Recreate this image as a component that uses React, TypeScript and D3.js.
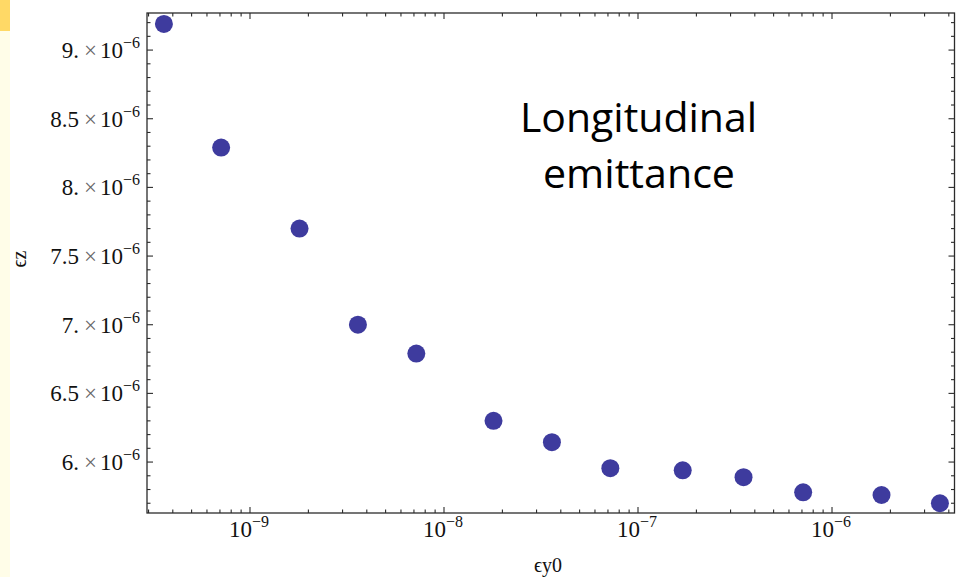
import React from "react";
import * as d3 from "d3";

const W = 956;
const H = 577;

// Initial vertical emittance (m) vs resulting longitudinal emittance
const eyValues = [3.6e-10, 7.1e-10, 1.8e-9, 3.6e-9, 7.2e-9, 1.8e-8, 3.6e-8, 7.2e-8, 1.7e-7, 3.5e-7, 7.1e-7, 1.8e-6, 3.6e-6];
const ezValues = [9.19e-6, 8.29e-6, 7.7e-6, 7.0e-6, 6.79e-6, 6.3e-6, 6.145e-6, 5.955e-6, 5.94e-6, 5.89e-6, 5.78e-6, 5.76e-6, 5.7e-6];

const yTickValues = [6e-6, 6.5e-6, 7e-6, 7.5e-6, 8e-6, 8.5e-6, 9e-6];
const yTickMantissas = ["6.", "6.5", "7.", "7.5", "8.", "8.5", "9."];
const xTickExponents = [-9, -8, -7, -6];

const titleLines = ["Longitudinal", "emittance"];

const left = 147;
const right = 954.5;
const top = 13;
const bottom = 513;

const x = d3.scaleLog().domain([Math.pow(10, -9.5309), Math.pow(10, -5.3686)]).range([left, right]);
const y = d3.scaleLinear().domain([5.629e-6, 9.27e-6]).range([bottom, top]);

const frameColor = "#2b2b2b";
const dotColor = "#3e3b9e";
const serif = "'Liberation Serif', 'DejaVu Serif', serif";

export default function App() {
  const [x0, x1] = x.domain();
  const [y0, y1] = y.domain();

  const xMajor = xTickExponents.map((e) => Math.pow(10, e));
  const xMinor: number[] = [];
  for (let d = -10; d <= -6; d++) {
    for (let k = 2; k <= 9; k++) {
      const v = k * Math.pow(10, d);
      if (v > x0 && v < x1) xMinor.push(v);
    }
  }
  const yMinor: number[] = [];
  for (let i = Math.ceil(y0 / 1e-7); i * 1e-7 <= y1; i++) {
    if (i % 5 !== 0) yMinor.push(i * 1e-7);
  }

  const major = 6;
  const minor = 3.5;

  return (
    <svg
      width={W}
      height={H}
      style={{ position: "absolute", left: 0, top: 0, background: "#ffffff" }}
    >
      {/* slide edge strip */}
      <rect x={0} y={0} width={10} height={H} fill="#fffde8" />
      <rect x={0} y={0} width={10} height={31} fill="#ffd966" />

      {/* frame */}
      <rect
        x={left}
        y={top}
        width={right - left}
        height={bottom - top}
        fill="none"
        stroke={frameColor}
        strokeWidth={1.3}
      />

      {/* ticks on all four sides */}
      <g stroke={frameColor} strokeWidth={1.1}>
        {xMajor.map((v, i) => (
          <g key={"xM" + i}>
            <line x1={x(v)} x2={x(v)} y1={bottom} y2={bottom - major} />
            <line x1={x(v)} x2={x(v)} y1={top} y2={top + major} />
          </g>
        ))}
        {xMinor.map((v, i) => (
          <g key={"xm" + i}>
            <line x1={x(v)} x2={x(v)} y1={bottom} y2={bottom - minor} />
            <line x1={x(v)} x2={x(v)} y1={top} y2={top + minor} />
          </g>
        ))}
        {yTickValues.map((v, i) => (
          <g key={"yM" + i}>
            <line x1={left} x2={left + major} y1={y(v)} y2={y(v)} />
            <line x1={right} x2={right - major} y1={y(v)} y2={y(v)} />
          </g>
        ))}
        {yMinor.map((v, i) => (
          <g key={"ym" + i}>
            <line x1={left} x2={left + minor} y1={y(v)} y2={y(v)} />
            <line x1={right} x2={right - minor} y1={y(v)} y2={y(v)} />
          </g>
        ))}
      </g>

      {/* y tick labels */}
      <g fontFamily={serif} fill="#111">
        {yTickValues.map((v, i) => (
          <text key={"yl" + i} x={140} y={y(v) + 8} textAnchor="end" fontSize={23}>
            <tspan>{yTickMantissas[i]}</tspan>
            <tspan fill="#666" dx={5}>×</tspan>
            <tspan dx={3}>10</tspan>
            <tspan fontSize={16} dy={-10}>−6</tspan>
          </text>
        ))}
      </g>

      {/* x tick labels */}
      <g fontFamily={serif} fill="#111">
        {xMajor.map((v, i) => (
          <text key={"xl" + i} x={x(v) - 1} y={537} textAnchor="middle" fontSize={23}>
            <tspan>10</tspan>
            <tspan fontSize={16} dy={-10}>{"−" + Math.abs(xTickExponents[i])}</tspan>
          </text>
        ))}
      </g>

      {/* axis titles */}
      <text x={548} y={572} textAnchor="middle" fontFamily={serif} fontSize={20} fill="#111">
        ϵy0
      </text>
      <text
        transform="translate(26,259) rotate(-90)"
        textAnchor="middle"
        fontFamily={serif}
        fontSize={20}
        fill="#111"
      >
        ϵz
      </text>

      {/* data points */}
      <g fill={dotColor}>
        {eyValues.map((v, i) => (
          <circle key={"p" + i} cx={x(v)} cy={y(ezValues[i])} r={9} />
        ))}
      </g>

      {/* annotation */}
      <g fontFamily="'Open Sans', 'Noto Sans', sans-serif" fontSize={41} fill="#000" textAnchor="middle">
        <text x={638.5} y={132} textLength={237} lengthAdjust="spacingAndGlyphs">
          {titleLines[0]}
        </text>
        <text x={639} y={188} textLength={192} lengthAdjust="spacingAndGlyphs">
          {titleLines[1]}
        </text>
      </g>
    </svg>
  );
}
